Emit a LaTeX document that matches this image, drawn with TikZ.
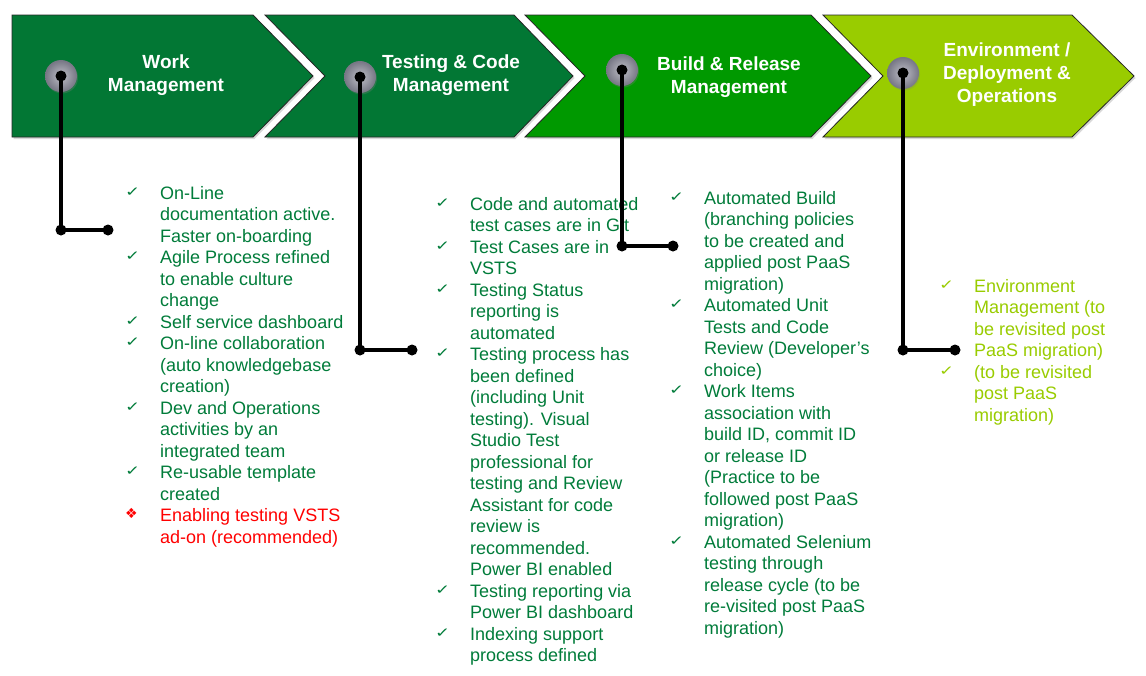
\documentclass[tikz,border=0pt]{standalone}
\usepackage{fontspec}
\setmainfont{Liberation Sans}
\newfontfamily\symfont{DejaVu Sans}
\usetikzlibrary{shadows}

\definecolor{dkgreen}{RGB}{2,119,52}
\definecolor{midgreen}{RGB}{0,153,0}
\definecolor{limegreen}{RGB}{153,204,0}
\definecolor{txtgreen}{RGB}{0,124,58}
\definecolor{recred}{RGB}{255,0,0}

\newcommand{\ck}{\leavevmode\raisebox{3pt}{\scalebox{1.2}[0.9]{\symfont\fontsize{15}{15}\selectfont ✓}}}
\newcommand{\dm}{\leavevmode\raisebox{3pt}{\textcolor{recred}{\symfont\fontsize{14}{14}\selectfont ❖}}}

\tikzset{
  chev/.style={draw=black!85, line width=0.8pt, line join=miter,
    drop shadow={shadow xshift=1.5pt, shadow yshift=-2pt, opacity=0.25, fill=black!60}},
  title/.style={text=white, font=\bfseries\fontsize{19}{23}\selectfont, align=center, inner sep=0pt},
  hub/.style={circle, minimum size=32pt, inner sep=0pt, shading=radial,
    inner color={rgb,255:red,190;green,190;blue,198}, outer color={rgb,255:red,118;green,118;blue,132},
    drop shadow={shadow xshift=1pt, shadow yshift=-1.5pt, opacity=0.3}},
  link/.style={line width=4pt, black},
  knob/.style={circle, fill=black, minimum size=11pt, inner sep=0pt},
  itemlist/.style={anchor=north west, inner sep=0pt, font=\fontsize{18}{21.5}\selectfont, align=left}
}

\begin{document}
\begin{tikzpicture}[x=1pt, y=-1pt]
\useasboundingbox (0,0) rectangle (1146,675);
\fill[white] (0,0) rectangle (1146,675);

% header chevrons
\path[chev, fill=dkgreen]   (12,15) -- (253,15) -- (313,76) -- (253,137) -- (12,137) -- cycle;
\path[chev, fill=dkgreen]   (265,15) -- (514,15) -- (573,76) -- (514,137) -- (265,137) -- (325,76) -- cycle;
\path[chev, fill=midgreen]  (525,15) -- (811,15) -- (871,76) -- (811,137) -- (525,137) -- (585,76) -- cycle;
\path[chev, fill=limegreen] (823,15) -- (1072,15) -- (1134,76) -- (1072,137) -- (823,137) -- (883,76) -- cycle;

\node[title] (t1) at (166,75) {Work\\Management};
\node[title] (t2) at (451,75.5) {Testing \& Code\\Management};
\node[title] (t3) at (729,77.5) {Build \& Release\\Management};
\node[title] (t4) at (1007,74.5) {Environment /\\Deployment \&\\Operations};

% hubs on the chevrons
\node[hub] (c1) at (61,76) {};
\node[hub] (c2) at (360,77) {};
\node[hub] (c3) at (622,70) {};
\node[hub] (c4) at (903,73) {};

% leader corners and ends
\coordinate (k1) at (61,230);  \coordinate (e1) at (108,230);
\coordinate (k2) at (360,350); \coordinate (e2) at (412,350);
\coordinate (k3) at (622,246); \coordinate (e3) at (673,246);
\coordinate (k4) at (903,350); \coordinate (e4) at (955,350);

% item lists
\node[itemlist, text=txtgreen] (l1) at (125,184) {%
\begin{tabular}{@{}p{35pt}@{}l@{}}
\ck & On-Line\\
 & documentation active.\\
 & Faster on-boarding\\
\ck & Agile Process refined\\
 & to enable culture\\
 & change\\
\ck & Self service dashboard\\
\ck & On-line collaboration\\
 & (auto knowledgebase\\
 & creation)\\
\ck & Dev and Operations\\
 & activities by an\\
 & integrated team\\
\ck & Re-usable template\\
 & created\\
\dm & \textcolor{recred}{Enabling testing VSTS}\\
 & \textcolor{recred}{ad-on (recommended)}
\end{tabular}};

\node[itemlist, text=txtgreen] (l2) at (435,195) {%
\begin{tabular}{@{}p{35pt}@{}l@{}}
\ck & Code and automated\\
 & test cases are in Git\\
\ck & Test Cases are in\\
 & VSTS\\
\ck & Testing Status\\
 & reporting is\\
 & automated\\
\ck & Testing process has\\
 & been defined\\
 & (including Unit\\
 & testing). Visual\\
 & Studio Test\\
 & professional for\\
 & testing and Review\\
 & Assistant for code\\
 & review is\\
 & recommended.\\
 & Power BI enabled\\
\ck & Testing reporting via\\
 & Power BI dashboard\\
\ck & Indexing support\\
 & process defined
\end{tabular}};

\node[itemlist, text=txtgreen] (l3) at (669,189) {%
\begin{tabular}{@{}p{35pt}@{}l@{}}
\ck & Automated Build\\
 & (branching policies\\
 & to be created and\\
 & applied post PaaS\\
 & migration)\\
\ck & Automated Unit\\
 & Tests and Code\\
 & Review (Developer’s\\
 & choice)\\
\ck & Work Items\\
 & association with\\
 & build ID, commit ID\\
 & or release ID\\
 & (Practice to be\\
 & followed post PaaS\\
 & migration)\\
\ck & Automated Selenium\\
 & testing through\\
 & release cycle (to be\\
 & re-visited post PaaS\\
 & migration)
\end{tabular}};

\node[itemlist, text=limegreen] (l4) at (939,277) {%
\begin{tabular}{@{}p{35pt}@{}l@{}}
\ck & Environment\\
 & Management (to\\
 & be revisited post\\
 & PaaS migration)\\
\ck & (to be revisited\\
 & post PaaS\\
 & migration)
\end{tabular}};

% leaders from the hubs down to the lists
\draw[link] (c1.center) -- (k1) -- (e1);
\draw[link] (c2.center) -- (k2) -- (e2);
\draw[link] (c3.center) -- (k3) -- (e3);
\draw[link] (c4.center) -- (k4) -- (e4);
\foreach \p in {c1.center,k1,e1,c2.center,k2,e2,c3.center,k3,e3,c4.center,k4,e4}
  \node[knob] at (\p) {};
\end{tikzpicture}
\end{document}
